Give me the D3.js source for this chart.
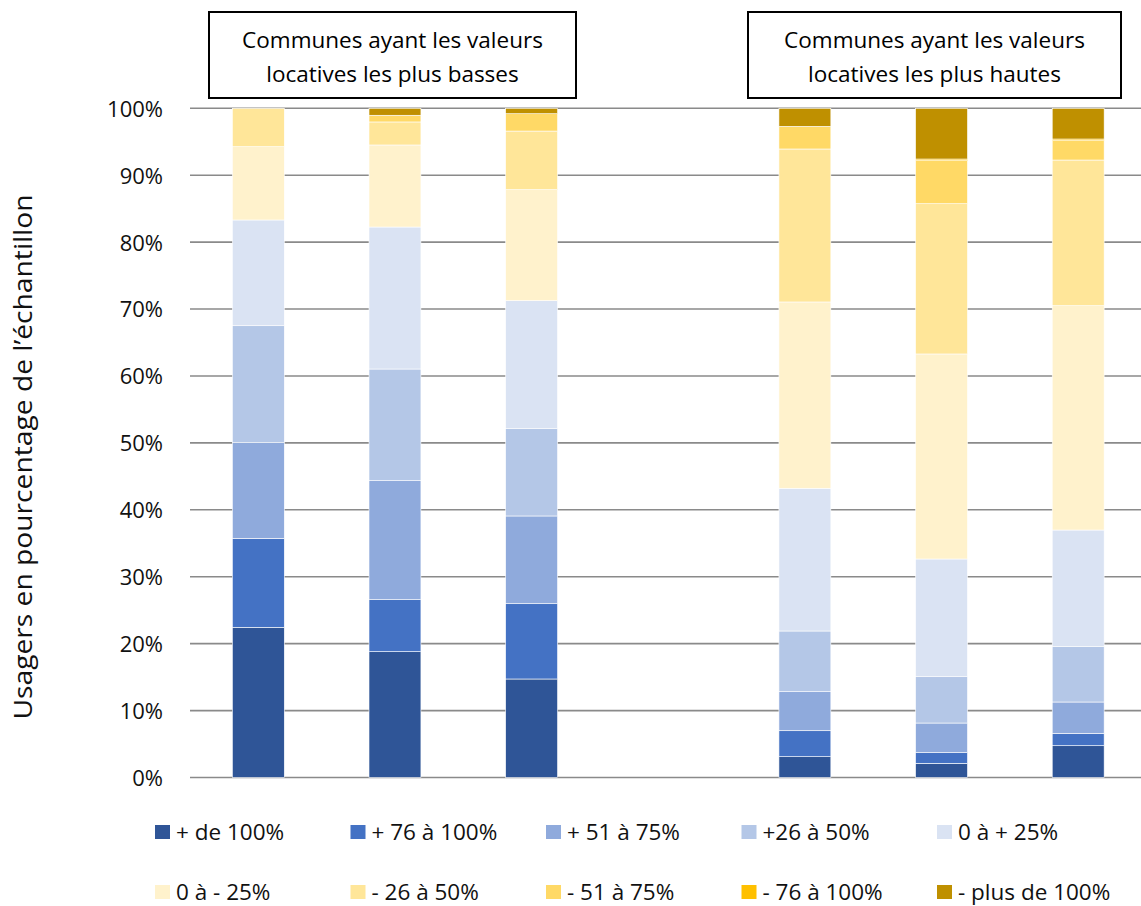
<!DOCTYPE html>
<html><head><meta charset="utf-8">
<script src="https://cdn.jsdelivr.net/npm/d3@7/dist/d3.min.js"></script>
<style>body{margin:0;background:#fff}svg{display:block;font-family:"Open Sans",sans-serif}</style>
</head><body>
<svg id="c" width="1141" height="906"></svg>
<script>
const categories = ["Bas 1","Bas 2","Bas 3","","Haut 1","Haut 2","Haut 3"];
const seriesNames = ["+ de 100%","+ 76 à 100%","+ 51 à 75%","+26 à 50%","0 à + 25%","0 à - 25%","- 26 à 50%","- 51 à 75%","- 76 à 100%","- plus de 100%"];
const seriesColors = ["#2F5597","#4472C4","#8FAADC","#B4C7E7","#DAE3F3","#FFF2CC","#FFE699","#FFD966","#FFC000","#BF9000"];
const plusDe100    = [22.44,18.80,14.72,0, 3.11, 2.12, 4.75];
const plus76a100   = [13.30, 7.77,11.25,0, 3.88, 1.59, 1.85];
const plus51a75    = [14.29,17.78,13.11,0, 5.83, 4.43, 4.68];
const plus26a50    = [17.48,16.69,13.04,0, 9.07, 6.92, 8.27];
const zeroAplus25  = [15.80,21.22,19.13,0,21.33,17.59,17.43];
const zeroAmoins25 = [10.95,12.26,16.59,0,27.84,30.64,33.52];
const moins26a50   = [ 5.74, 3.44, 8.76,0,22.86,22.45,21.77];
const moins51a75   = [ 0.00, 1.00, 2.59,0, 3.38, 6.43, 2.89];
const moins76a100  = [ 0.00, 0.00, 0.00,0, 0.00, 0.25, 0.25];
const moinsPlus100 = [ 0.00, 1.04, 0.81,0, 2.70, 7.58, 4.59];
const seriesValues = [plusDe100,plus76a100,plus51a75,plus26a50,zeroAplus25,zeroAmoins25,moins26a50,moins51a75,moins76a100,moinsPlus100];
const yTicks = [0,10,20,30,40,50,60,70,80,90,100];
const groupTitles = [["Communes ayant les valeurs","locatives les plus basses"],["Communes ayant les valeurs","locatives les plus hautes"]];
const yTitle = "Usagers en pourcentage de l’échantillon";

const svg = d3.select("#c");
const x = d3.scaleBand().domain(categories).range([190,1146.5]).paddingInner(0.62).paddingOuter(0.31);
const y = d3.scaleLinear().domain([0,100]).range([777.5,108.3]);

// gridlines
svg.append("g").selectAll("line").data(yTicks).join("line")
  .attr("x1",190).attr("x2",1141).attr("y1",d=>y(d)).attr("y2",d=>y(d))
  .attr("stroke","#8a8a8a").attr("stroke-width",1.6);

// stacked data
const table = categories.map((c,i)=>{const o={cat:c}; seriesNames.forEach((s,j)=>o[s]=seriesValues[j][i]); return o;});
const stack = d3.stack().keys(seriesNames)(table.filter(d=>d.cat!==""));
svg.append("g").selectAll("g").data(stack).join("g")
  .attr("fill",(d,i)=>seriesColors[i])
  .selectAll("rect").data(d=>d.filter(p=>p[1]-p[0]>0)).join("rect")
  .attr("x",d=>x(d.data.cat)).attr("width",x.bandwidth())
  .attr("y",d=>y(d[1])).attr("height",d=>y(d[0])-y(d[1]))
  .attr("stroke","#ffffff").attr("stroke-width",0.6);

// y axis
const ax = svg.append("g").attr("transform","translate(190,0)")
  .call(d3.axisLeft(y).tickValues(yTicks).tickSize(0).tickPadding(27).tickFormat(d=>d+"%"));
ax.select(".domain").remove();
ax.selectAll("text").attr("font-family","Open Sans").attr("font-size",22).attr("fill","#111").attr("dy","0.36em");

svg.append("text").attr("transform","translate(32,457) rotate(-90)")
  .attr("text-anchor","middle").attr("font-size",25).attr("fill","#111")
  .attr("textLength",525).attr("lengthAdjust","spacingAndGlyphs").text(yTitle);

// group title boxes
const boxes = [[209,576],[748,1121]];
boxes.forEach((b,i)=>{
  svg.append("rect").attr("x",b[0]).attr("y",12).attr("width",b[1]-b[0]).attr("height",86)
    .attr("fill","#fff").attr("stroke","#000").attr("stroke-width",2);
  const cx=(b[0]+b[1])/2;
  groupTitles[i].forEach((t,k)=>svg.append("text").attr("x",cx).attr("y",48+k*34)
    .attr("text-anchor","middle").attr("font-size",22.5).attr("fill","#000").text(t));
});

// legend
const legX = [155,350.5,546,741.5,937];
const leg = svg.append("g").selectAll("g").data(seriesNames).join("g")
  .attr("transform",(d,i)=>`translate(${legX[i%5]},${i<5?825:885})`);
leg.append("rect").attr("width",15).attr("height",14).attr("fill",(d,i)=>seriesColors[i]);
leg.append("text").attr("x",21).attr("y",14.5).attr("font-size",22.5).attr("fill","#111").text(d=>d);
</script>
</body></html>
